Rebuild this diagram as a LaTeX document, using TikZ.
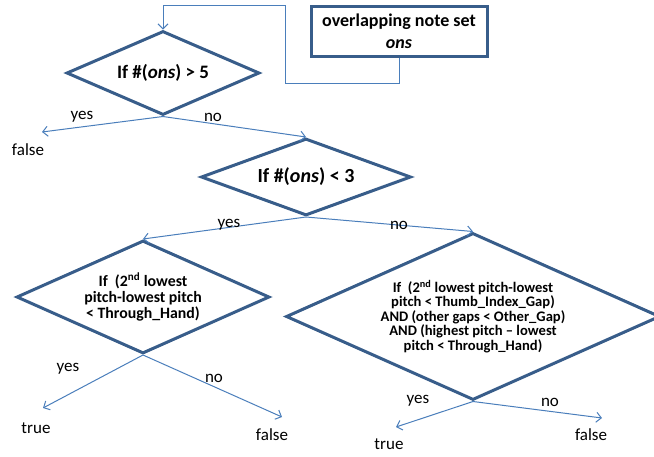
\documentclass[tikz,border=0pt]{standalone}
\usepackage{fontspec}
\setmainfont{Carlito}
\usetikzlibrary{shapes.geometric,arrows.meta}
\definecolor{edge}{RGB}{56, 93, 138}
\definecolor{flow}{RGB}{74, 126, 187}

\begin{document}
\begin{tikzpicture}[x=1pt, y=-1pt,
        test/.style={diamond, draw=edge, line width=3pt, inner sep=0pt, align=center, font=\bfseries},
        notebox/.style={rectangle, draw=edge, line width=3pt, inner sep=0pt, align=center, font=\fontsize{18}{22}\selectfont\bfseries},
        link/.style={draw=flow, line width=1pt, -{Straight Barb[length=5pt, width=10pt]}},
        lbl/.style={font=\fontsize{17}{20}\selectfont}]
        \useasboundingbox (0, 0) rectangle (654, 456);

        \node[notebox, minimum width=176, minimum height=50] (ons) at (399, 31) {overlapping note set\\\textit{ons}};

        \node[test, aspect=2.3, minimum width=193, minimum height=84, font=\fontsize{19}{22}\selectfont\bfseries] (more5) at (163, 73) {If \#(\textit{ons}) > 5};
        \node[test, aspect=2.7, minimum width=210, minimum height=77, font=\fontsize{20}{22}\selectfont\bfseries] (less3) at (306, 177) {If \#(\textit{ons}) < 3};
        \node[test, aspect=2.24, minimum width=253, minimum height=113, font=\fontsize{15.8}{16}\selectfont\bfseries] (hand) at (143, 297) {If~~(2\textsuperscript{nd} lowest\\pitch-lowest pitch\\< Through\_Hand)};
        \node[test, aspect=2.24, minimum width=374, minimum height=167, font=\fontsize{14.6}{14.5}\selectfont\bfseries] (gaps) at (473, 316.5) {If~~(2\textsuperscript{nd} lowest pitch-lowest\\pitch < Thumb\_Index\_Gap)\\AND (other gaps < Other\_Gap)\\AND (highest pitch -- lowest\\pitch < Through\_Hand)};

        \coordinate (loopa) at (285, 83);
        \coordinate (loopb) at (285, 5);
        \coordinate (falsea) at (42, 132);
        \coordinate (truea) at (43, 408);
        \coordinate (falseb) at (282, 417);
        \coordinate (trueb) at (396, 427);
        \coordinate (falsec) at (602, 418);

        \draw[link] (ons.south) |- (loopa) -- (loopb) -| (more5.north);
        \draw[link] (more5.south) -- (falsea);
        \draw[link] (more5.south) -- (less3.north);
        \draw[link] (less3.south) -- (hand.north);
        \draw[link] (less3.south) -- (gaps.north);
        \draw[link] (hand.south) -- (truea);
        \draw[link] (hand.south) -- (falseb);
        \draw[link] (gaps.south) -- (trueb);
        \draw[link] (gaps.south) -- (falsec);

        \node[lbl] (yesa) at (82, 117) {yes};
        \node[lbl] (noa) at (213, 117) {no};
        \node[lbl] (outa) at (28, 150) {false};
        \node[lbl] (yesb) at (229, 225) {yes};
        \node[lbl] (nob) at (399, 225) {no};
        \node[lbl] (yesc) at (68, 369) {yes};
        \node[lbl] (outb) at (36, 428) {true};
        \node[lbl] (noc) at (214, 378) {no};
        \node[lbl] (outc) at (272, 435) {false};
        \node[lbl] (yesd) at (418, 401) {yes};
        \node[lbl] (outd) at (389, 444) {true};
        \node[lbl] (nod) at (550, 402) {no};
        \node[lbl] (oute) at (591, 435) {false};
    \end{tikzpicture}
\end{document}
